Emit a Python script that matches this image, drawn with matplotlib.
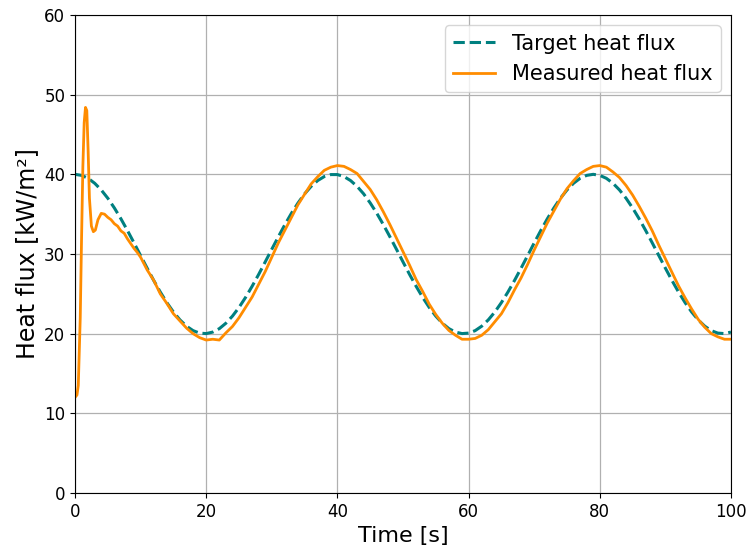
import numpy as np
import matplotlib
matplotlib.use("Agg")
import matplotlib.pyplot as plt

# target heat flux, read every 1 s from 0 to 100 s
target_time = list(range(0, 101))
target_flux = [
    40.00, 39.87, 39.50, 38.88, 38.04, 37.00, 35.78, 34.42, 32.94, 31.39,
    29.80, 28.22, 26.68, 25.23, 23.90, 22.72, 21.73, 20.94, 20.38, 20.07,
    20.01, 20.20, 20.63, 21.31, 22.20, 23.29, 24.55, 25.95, 27.44, 29.01,
    30.60, 32.17, 33.69, 35.12, 36.41, 37.55, 38.49, 39.22, 39.72, 39.97,
    39.97, 39.72, 39.22, 38.49, 37.55, 36.41, 35.12, 33.69, 32.17, 30.60,
    29.01, 27.44, 25.95, 24.55, 23.29, 22.20, 21.31, 20.63, 20.20, 20.01,
    20.07, 20.38, 20.94, 21.73, 22.72, 23.90, 25.23, 26.68, 28.22, 29.80,
    31.39, 32.94, 34.42, 35.78, 37.00, 38.04, 38.88, 39.50, 39.87, 40.00,
    39.87, 39.50, 38.88, 38.04, 37.00, 35.78, 34.42, 32.94, 31.39, 29.80,
    28.22, 26.68, 25.23, 23.90, 22.72, 21.73, 20.94, 20.38, 20.07, 20.01,
    20.20,
]

# measured heat flux (start-up spike sampled finer)
measured_time = [
    0.0, 0.3, 0.5, 0.8, 1.0, 1.2, 1.4, 1.6, 1.8, 2.0, 2.2, 2.5, 2.8, 3.1,
    3.5, 4.0, 4.5, 5.0, 5.5, 6.0, 6.5, 7.0, 7.5, 8.0, 8.5, 9.0, 9.5,
] + list(range(10, 101))
measured_flux = [
    12.0, 12.3, 13.5, 22.0, 32.0, 41.0, 46.5, 48.4, 48.0, 43.0, 37.0, 33.5, 32.8, 33.0,
    34.3, 35.1, 35.0, 34.6, 34.3, 33.8, 33.5, 32.9, 32.6, 31.9, 31.3, 30.7, 30.2,
    29.6, 28.0, 26.7, 25.0, 23.8, 22.5, 21.6, 20.7, 20.0, 19.5,
    19.2, 19.3, 19.2, 20.1, 20.9, 22.0, 23.3, 24.6, 26.2, 27.8,
    29.6, 31.4, 33.0, 34.6, 36.2, 37.5, 38.8, 39.7, 40.5, 40.9,
    41.1, 41.0, 40.6, 40.1, 39.1, 38.1, 36.8, 35.3, 33.7, 32.0,
    30.3, 28.6, 26.8, 25.3, 23.7, 22.4, 21.3, 20.4, 19.8, 19.3,
    19.3, 19.4, 19.8, 20.5, 21.5, 22.5, 23.9, 25.5, 27.0, 28.7,
    30.5, 32.2, 33.9, 35.4, 36.9, 38.2, 39.2, 40.1, 40.6, 41.0,
    41.1, 40.9, 40.3, 39.6, 38.6, 37.4, 36.0, 34.5, 32.9, 31.1,
    29.4, 27.7, 26.0, 24.5, 23.1, 21.8, 20.8, 20.0, 19.6, 19.3,
    19.3,
]

fig = plt.figure(figsize=(7.48, 5.52), dpi=100)
ax = fig.add_axes([75 / 748, 1 - 493 / 552, 656 / 748, 478 / 552])

ax.plot(target_time, target_flux, '--', color='teal', linewidth=2.2,
        label='Target heat flux')
ax.plot(measured_time, measured_flux, '-', color='darkorange', linewidth=2.0,
        label='Measured heat flux')

ax.set_xlim(0, 100)
ax.set_ylim(0, 60)
ax.set_xticks([0, 20, 40, 60, 80, 100])
ax.set_yticks([0, 10, 20, 30, 40, 50, 60])
ax.tick_params(labelsize=12)
ax.grid(True, color='#b0b0b0', linewidth=0.9)
ax.set_xlabel('Time [s]', fontsize=16)
ax.set_ylabel('Heat flux [kW/m²]', fontsize=17)
ax.legend(loc='upper right', fontsize=15)

fig.savefig('out.png', dpi=100)
